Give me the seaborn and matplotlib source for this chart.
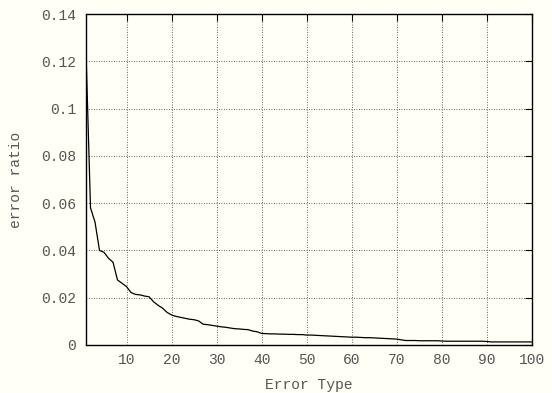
import numpy as np
import pandas as pd
import matplotlib
matplotlib.use("Agg")
import matplotlib.pyplot as plt
from matplotlib.ticker import FuncFormatter, FixedLocator
import seaborn as sns

error_type = list(range(1, 101))
error_ratio = [
    0.124, 0.058, 0.052, 0.040, 0.0392, 0.0367, 0.0350, 0.0275, 0.0261, 0.0247,
    0.0222, 0.0214, 0.0212, 0.0207, 0.0204, 0.0183, 0.0168, 0.0156, 0.0138, 0.0127,
    0.0121, 0.0117, 0.0113, 0.0109, 0.0107, 0.0102, 0.0088, 0.0086, 0.0083, 0.0080,
    0.0077, 0.0075, 0.0072, 0.0069, 0.0068, 0.0066, 0.0065, 0.0059, 0.0056, 0.0049,
    0.0048, 0.0047, 0.0047, 0.0046, 0.0046, 0.0045, 0.0045, 0.0044, 0.0044, 0.0042,
    0.0042, 0.0041, 0.0040, 0.0039, 0.0038, 0.0037, 0.0036, 0.0035, 0.0034, 0.0033,
    0.0033, 0.0032, 0.0031, 0.0031, 0.0030, 0.0029, 0.0028, 0.0027, 0.0026, 0.0025,
    0.0022, 0.0019, 0.0019, 0.0019, 0.0018, 0.0018, 0.0018, 0.0018, 0.0018, 0.0017,
    0.0016, 0.0016, 0.0016, 0.0016, 0.0016, 0.0016, 0.0016, 0.0016, 0.0016, 0.0015,
    0.0013, 0.0013, 0.0013, 0.0013, 0.0013, 0.0013, 0.0013, 0.0013, 0.0013, 0.0013,
]
x_ticks = [10, 20, 30, 40, 50, 60, 70, 80, 90, 100]
y_ticks = [0, 0.02, 0.04, 0.06, 0.08, 0.1, 0.12, 0.14]

df = pd.DataFrame({"Error Type": error_type, "error ratio": error_ratio})

sns.set_theme(style="white")
bg = "#fffff6"
txt = "#555555"
plt.rcParams["font.family"] = ["Liberation Mono", "DejaVu Sans Mono"]
plt.rcParams["text.color"] = txt
plt.rcParams["axes.labelcolor"] = txt

fig = plt.figure(figsize=(5.52, 3.93), dpi=100, facecolor=bg)
ax = fig.add_axes([86 / 552, 1 - 345 / 393, (531.7 - 86) / 552, (345 - 14) / 393])
ax.set_facecolor(bg)

sns.lineplot(data=df, x="Error Type", y="error ratio", ax=ax, color="black", linewidth=0.9)

ax.set_xlim(1, 100)
ax.set_ylim(0, 0.14)
ax.xaxis.set_major_locator(FixedLocator(x_ticks))
ax.yaxis.set_major_locator(FixedLocator(y_ticks))
ax.yaxis.set_major_formatter(FuncFormatter(lambda v, p: "%g" % v))

ax.grid(True, color="#333333", linestyle=(0, (1, 2)), linewidth=0.6)
for s in ax.spines.values():
    s.set_visible(True)
    s.set_color("black")
    s.set_linewidth(1.0)

ax.tick_params(direction="in", length=5, width=0.8, top=True, right=True,
               labelsize=10.5, labelcolor=txt, color="black", pad=7)
ax.tick_params(axis="x", pad=6)
ax.set_xlabel("Error Type", fontsize=10.5, labelpad=8)
ax.set_ylabel("error ratio", fontsize=10.5, labelpad=13)

fig.savefig("out.png", dpi=100, facecolor=bg)
